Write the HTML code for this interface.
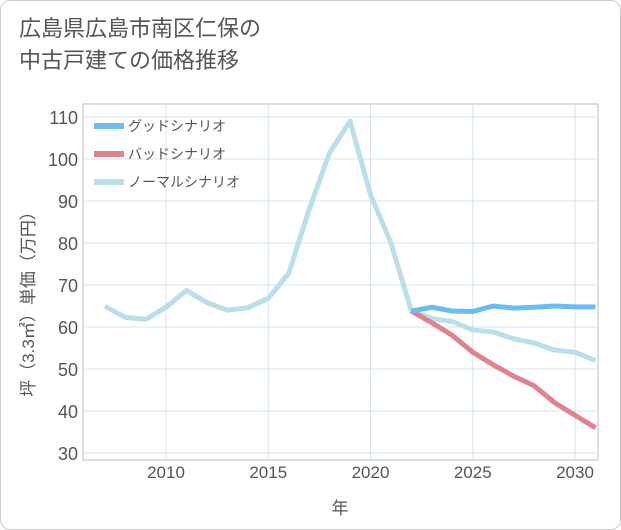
<!DOCTYPE html>
<html><head><meta charset="utf-8"><style>
body{margin:0;background:#fff;}
.wrap{position:relative;width:619px;height:528px;border:1px solid #ccc;border-radius:10px;background:#fff;font-family:"Liberation Sans","Noto Sans CJK JP",sans-serif;overflow:hidden}
.title{position:absolute;left:18px;top:12px;font-size:22px;line-height:32px;color:#555}
</style></head><body>
<div class="wrap">
<div class="title">広島県広島市南区仁保の<br>中古戸建ての価格推移</div>
<svg id="chart" width="621" height="530" style="position:absolute;left:-1px;top:-1px"></svg>
</div>
<script>
const years=[2007,2008,2009,2010,2011,2012,2013,2014,2015,2016,2017,2018,2019,2020,2021,2022,2023,2024,2025,2026,2027,2028,2029,2030,2031];
const normal=[65,62.3,61.8,64.7,68.7,65.8,64,64.6,66.8,72.8,88,101.5,109,91.5,80,63.8,62,61.3,59.3,58.8,57.2,56.2,54.5,54,52];
const goodYears=[2022,2023,2024,2025,2026,2027,2028,2029,2030,2031];
const good=[63.8,64.7,63.8,63.7,65,64.5,64.7,65,64.8,64.8];
const bad=[63.8,61,58,54,51,48.3,46,42,39,36];
const yTicks=[30,40,50,60,70,80,90,100,110];
const xTicks=[2010,2015,2020,2025,2030];
const L=83,R=598,T=104,B=460;
const x=v=>166+(v-2010)*20.45;
const y=v=>453-(v-30)*4.2;
const svg=document.getElementById('chart');
const NS='http://www.w3.org/2000/svg';
function mk(t,a,p){const e=document.createElementNS(NS,t);for(const k in a)e.setAttribute(k,a[k]);(p||svg).appendChild(e);return e;}
const bg=mk('rect',{x:L,y:T,width:R-L,height:B-T,fill:'#fff',stroke:'#bbb'});


yTicks.forEach(v=>{
 const g=mk('line',{x1:L,x2:R,y1:y(v),y2:y(v),stroke:'#d5e4ee'});
 
 
 const t=mk('text',{x:78,y:y(v)+7,'text-anchor':'end','font-size':18,fill:'#555'});
 t.textContent=v;
 
 
});
xTicks.forEach(v=>{
 const g=mk('line',{x1:x(v),x2:x(v),y1:T,y2:B,stroke:'#d5e4ee'});
 
 
 const t=mk('text',{x:x(v),y:478,'text-anchor':'middle','font-size':17,fill:'#555'});
 t.textContent=v;
 
 
});
function line(xs,ys,c,name){
 const p=mk('polyline',{points:xs.map((v,i)=>x(v)+','+y(ys[i])).join(' '),fill:'none',stroke:c,'stroke-width':5,'stroke-linejoin':'round'});
 
 
}
svg.appendChild(mk('clipPath',{id:'c'}));
line(years,normal,'#badfea','normal-scenario-line');
line(goodYears,bad,'#e0838e','bad-scenario-line');
line(goodYears,good,'#6bbcf2','good-scenario-line');
[['グッドシナリオ','#6bbcf2'],['バッドシナリオ','#e0838e'],['ノーマルシナリオ','#badfea']].forEach((d,i)=>{
 const yy=126+i*28;
 const r=mk('rect',{x:94,y:yy-3,width:30,height:6,fill:d[1]});
 
 
 const t=mk('text',{x:128,y:yy+5,'font-size':14,fill:'#555'});
 t.textContent=d[0];
 
 
});
const xt=mk('text',{x:340,y:514,'text-anchor':'middle','font-size':17,fill:'#555'});
xt.textContent='年';


const yt=mk('text',{x:0,y:0,'text-anchor':'middle','font-size':17,fill:'#555',transform:'translate(34,300) rotate(-90)'});
yt.textContent='坪（3.3㎡）単価（万円）';


</script>
</body></html>
